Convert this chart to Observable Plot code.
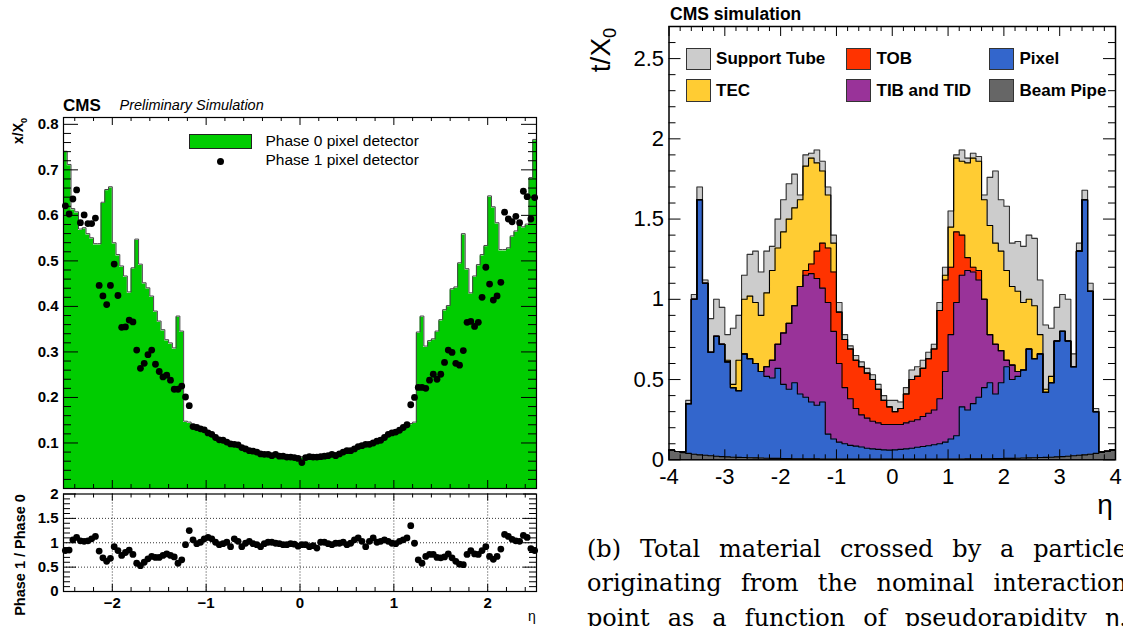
<!DOCTYPE html>
<html><head><meta charset="utf-8">
<script src="https://cdn.jsdelivr.net/npm/d3@7"></script>
<script src="https://cdn.jsdelivr.net/npm/@observablehq/plot@0.6"></script>
<style>
html,body{margin:0;padding:0;width:1123px;height:626px;overflow:hidden;background:#fff;}
body{position:relative;font-family:"Liberation Sans",Arial,Helvetica,sans-serif;color:#000;}
.abs{position:absolute;white-space:nowrap;line-height:1;}
.rot{transform:translate(-50%,-50%) rotate(-90deg);}
.ctr{transform:translate(-50%,-50%);}
.box{position:absolute;box-sizing:border-box;border:1px solid #222;}
.cl{width:540px;text-align:justify;text-align-last:justify;}
</style></head><body>
<div id="leftMain" class="abs" style="left:0;top:90px"></div>
<div id="leftRatio" class="abs" style="left:0;top:488px"></div>
<div id="right" class="abs" style="left:600px;top:0"></div>

<div class="abs" style="left:63px;top:96.5px;font-size:17px;font-weight:bold">CMS</div>
<div class="abs" style="left:119.5px;top:97.5px;font-size:14.5px;font-style:italic">Preliminary Simulation</div>
<div class="abs rot" style="left:20px;top:131px;font-size:14px;font-weight:bold">x/X<sub style="font-size:0.65em">0</sub></div>
<div class="abs rot" style="left:20px;top:555px;font-size:14.5px;font-weight:bold">Phase 1 / Phase 0</div>
<div class="abs ctr" style="left:532px;top:616px;font-size:14px">η</div>
<div class="box" style="left:189px;top:134px;width:63px;height:15px;background:#00cc00"></div>
<div class="abs" style="left:265.5px;top:133px;font-size:15.5px">Phase 0 pixel detector</div>
<div class="abs" style="left:217.3px;top:158.2px;width:7px;height:7px;border-radius:50%;background:#000"></div>
<div class="abs" style="left:265.5px;top:152px;font-size:15.5px">Phase 1 pixel detector</div>

<div class="abs" style="left:670px;top:5.5px;font-size:17.5px;font-weight:bold">CMS simulation</div>
<div class="abs rot" style="left:603px;top:50px;font-size:28px">t/X<sub style="font-size:0.65em">0</sub></div>
<div class="abs ctr" style="left:1105px;top:505px;font-size:28px">η</div>
<div id="legendR"></div>

<div style="position:absolute;left:587px;top:531.5px;font-family:'DejaVu Serif',serif;font-size:24px;line-height:34.5px;">
<div class="cl">(b) Total material crossed by a particle</div>
<div class="cl">originating from the nominal interaction</div>
<div class="cl">point as a function of pseudorapidity η.</div>
</div>

<script>
// ---------------- LEFT CHART DATA (bins of 0.04 from -2.52 to 2.52) ----------------
const leftBinStart = -2.52;
const leftBinWidth = 0.04;
const phase0 = [
 0.738,0.709,0.612,0.605,0.567,0.570,0.557,0.548,0.535,0.535,0.626,0.654,0.660,0.537,0.511,0.486,0.464,0.429,0.482,0.545,0.490,0.449,0.438,0.420,0.387,0.365,0.346,0.324,0.317,0.306,0.376,0.343,
 0.145,0.143,0.138,0.133,0.129,0.125,0.121,0.117,0.113,0.109,0.106,0.102,0.099,0.096,0.093,0.090,0.087,0.085,0.083,0.080,0.078,0.076,0.074,0.073,0.072,0.070,0.069,0.068,0.068,0.067,0.067,0.067,
 0.067,0.068,0.068,0.069,0.070,0.071,0.073,0.074,0.076,0.078,0.080,0.082,0.085,0.087,0.090,0.093,0.096,0.099,0.102,0.106,0.109,0.113,0.117,0.121,0.125,0.129,0.133,0.137,0.140,0.143,
 0.341,0.376,0.310,0.322,0.326,0.343,0.368,0.390,0.399,0.436,0.440,0.493,0.557,0.480,0.427,0.464,0.489,0.511,0.531,0.640,0.616,0.581,0.522,0.522,0.526,0.552,0.563,0.578,0.572,0.578,0.680,0.764
];
const phase1 = [
 0.621,0.603,0.636,0.656,0.584,0.601,0.582,0.582,0.594,0.446,0.423,0.404,0.446,0.493,0.424,0.354,0.355,0.370,0.366,0.304,0.264,0.275,0.294,0.304,0.273,0.257,0.245,0.249,0.238,0.218,0.218,0.225,0.201,0.182,
 0.136,0.134,0.131,0.129,0.122,0.119,0.112,0.107,0.106,0.102,0.098,0.097,0.096,0.090,0.087,0.083,0.082,0.080,0.076,0.075,0.075,0.072,0.075,0.071,0.071,0.069,0.069,0.068,0.066,
 0.057,0.068,0.070,0.069,0.069,0.070,0.071,0.072,0.075,0.072,0.076,0.080,0.083,0.083,0.087,0.092,0.094,0.097,0.097,0.100,0.104,0.106,0.112,0.119,0.122,0.124,0.128,0.134,0.140,
 0.184,0.200,0.222,0.222,0.220,0.238,0.251,0.240,0.251,0.277,0.304,0.299,0.275,0.271,0.303,0.365,0.367,0.356,0.365,0.420,0.486,0.449,0.414,0.423,0.453,0.607,0.592,0.586,0.598,0.584,0.653,0.641,0.592,0.639
];
const ratio = [
 0.84,0.85,1.06,1.11,1.04,1.03,1.04,1.08,1.13,0.83,0.69,0.62,0.68,0.92,0.84,0.74,0.80,0.85,0.76,0.58,0.53,0.60,0.67,0.72,0.70,0.70,0.74,0.77,0.74,0.71,0.58,0.65,
 0.96,1.25,1.06,0.98,
 1.01,1.08,1.11,1.08,1.01,0.96,0.98,1.01,0.92,1.08,1.03,0.92,0.99,1.03,0.98,0.96,0.92,0.98,1.01,1.01,0.99,0.98,0.96,0.96,0.98,0.97,0.93,
 0.96,0.96,0.92,0.94,0.89,1.01,1.01,0.98,0.96,0.99,0.99,1.01,0.96,0.99,1.06,1.10,1.03,0.92,1.03,1.10,1.01,1.03,1.06,1.03,0.99,0.98,1.03,1.06,1.10,
 1.35,0.99,0.65,0.58,0.72,0.76,0.76,0.70,0.69,0.71,0.77,0.69,0.62,0.56,0.55,0.76,0.84,0.77,0.76,0.84,0.92,0.72,0.66,0.72,0.87,1.17,1.13,1.07,1.04,1.03,1.15,1.11,0.88,0.84
];
const leftYTicks = [0.1,0.2,0.3,0.4,0.5,0.6,0.7,0.8];
const ratioYTicks = [0,0.5,1,1.5,2];
const leftXTicks = [-2,-1,0,1,2];

// ---------------- RIGHT CHART DATA (bins of 0.1 from -4 to 4), cumulative layer tops ----------------
const rightBinStart = -4;
const rightBinWidth = 0.1;
const beamPipeTop = [
 0.060,0.052,0.045,0.040,0.035,0.031,0.028,0.025,0.022,0.020,0.018,0.016,0.015,0.014,0.013,0.012,0.011,0.010,0.009,0.009,0.008,0.008,0.007,0.007,0.006,0.006,0.006,0.005,0.005,0.005,0.005,0.004,0.004,0.004,0.004,0.004,0.004,0.004,0.004,0.004,
 0.004,0.004,0.004,0.004,0.004,0.004,0.004,0.004,0.004,0.005,0.005,0.005,0.005,0.006,0.006,0.006,0.007,0.007,0.008,0.008,0.009,0.009,0.010,0.011,0.012,0.013,0.014,0.015,0.016,0.018,0.020,0.022,0.025,0.028,0.031,0.035,0.040,0.046,0.053,0.062
];
const pixelTop = [
 0.060,0.052,0.048,0.35,1.00,1.62,1.10,0.67,0.77,0.72,0.61,0.45,0.43,0.66,0.63,0.60,0.55,0.52,0.51,0.57,0.47,0.44,0.48,0.41,0.39,0.36,0.34,0.36,0.16,0.13,0.11,0.10,0.09,0.085,0.08,0.072,0.068,0.065,0.062,0.06,
 0.062,0.065,0.068,0.072,0.078,0.083,0.088,0.094,0.10,0.11,0.13,0.15,0.33,0.31,0.35,0.39,0.45,0.48,0.41,0.48,0.58,0.50,0.52,0.56,0.69,0.63,0.66,0.42,0.48,0.74,0.80,0.74,0.58,1.30,1.62,1.05,0.30,0.05,0.053,0.062
];
const tibTop = [
 0.060,0.052,0.048,0.35,1.00,1.62,1.10,0.67,0.77,0.72,0.61,0.45,0.43,0.66,0.63,0.60,0.55,0.58,0.62,0.72,0.79,0.85,0.96,1.08,1.15,1.16,1.13,1.07,0.98,0.80,0.60,0.45,0.38,0.32,0.28,0.26,0.24,0.23,0.22,0.22,
 0.22,0.22,0.23,0.24,0.25,0.27,0.29,0.31,0.38,0.55,0.78,0.98,1.15,1.18,1.17,1.12,1.00,0.78,0.72,0.68,0.62,0.59,0.55,0.56,0.69,0.63,0.66,0.42,0.48,0.74,0.80,0.74,0.58,1.30,1.62,1.05,0.30,0.05,0.053,0.062
];
const tobTop = [
 0.060,0.052,0.048,0.35,1.00,1.62,1.10,0.67,0.77,0.72,0.61,0.45,0.43,0.66,0.63,0.60,0.55,0.58,0.62,0.72,0.79,0.85,0.96,1.08,1.18,1.22,1.30,1.35,1.32,1.17,0.92,0.75,0.69,0.62,0.58,0.54,0.50,0.44,0.37,0.33,
 0.30,0.32,0.41,0.50,0.52,0.57,0.63,0.69,0.93,1.12,1.20,1.42,1.40,1.26,1.20,1.18,1.00,0.78,0.72,0.68,0.62,0.59,0.55,0.56,0.69,0.63,0.66,0.42,0.48,0.74,0.80,0.74,0.58,1.30,1.62,1.05,0.30,0.05,0.053,0.062
];
const tecTop = [
 0.060,0.052,0.048,0.35,1.00,1.62,1.10,0.67,0.77,0.72,0.62,0.47,0.62,1.00,1.02,0.98,0.90,1.04,1.18,1.32,1.42,1.50,1.57,1.62,1.83,1.88,1.85,1.80,1.65,1.35,0.92,0.75,0.69,0.62,0.58,0.54,0.50,0.44,0.37,0.33,
 0.30,0.32,0.41,0.50,0.52,0.57,0.63,0.69,0.93,1.15,1.45,1.88,1.86,1.85,1.88,1.86,1.62,1.46,1.35,1.30,1.18,1.08,1.05,0.98,1.00,0.96,0.78,0.44,0.52,0.74,0.80,0.74,0.58,1.30,1.62,1.05,0.30,0.05,0.053,0.062
];
const supportTop = [
 0.060,0.052,0.048,0.37,1.03,1.70,1.12,0.88,1.00,0.95,0.78,0.82,0.90,1.15,1.28,1.30,1.17,1.30,1.33,1.50,1.62,1.72,1.78,1.65,1.90,1.91,1.93,1.86,1.70,1.40,0.98,0.78,0.71,0.65,0.61,0.57,0.53,0.47,0.40,0.37,
 0.37,0.36,0.45,0.56,0.58,0.62,0.67,0.72,0.98,1.20,1.55,1.90,1.93,1.88,1.91,1.89,1.65,1.76,1.80,1.62,1.58,1.35,1.36,1.33,1.40,1.38,1.12,0.84,0.82,0.95,1.03,1.00,0.66,1.35,1.68,1.10,0.32,0.05,0.053,0.062
];
const layerNames = ["Support Tube","TEC","TOB","TIB and TID","Pixel","Beam Pipe"];
const layerColors = ["#cccccc","#ffcc33","#ff3300","#993399","#3366cc","#666666"];
const rightYTicks = [0,0.5,1,1.5,2,2.5];
const rightXTicks = [-4,-3,-2,-1,0,1,2,3,4];

// ---------------- helpers ----------------
const FONT = "'Liberation Sans', Arial, Helvetica, sans-serif";
function stepData(values, start, width) {
  const pts = values.map((v, i) => ({x: start + i * width, y: v}));
  pts.push({x: start + values.length * width, y: values[values.length - 1]});
  return pts;
}
function centers(values, start, width) {
  return values.map((v, i) => ({x: start + (i + 0.5) * width, y: v}));
}
function isMult(v, step) { const q = v / step; return Math.abs(q - Math.round(q)) < 1e-6; }
function frameTicks({xd, yd, w, h, xMaj, xMin, yMaj, yMin, xMajL, xMinL, yMajL, yMinL}) {
  const ux = (xd[1] - xd[0]) / w, uy = (yd[1] - yd[0]) / h;
  const yT = (vals, L) => [
    Plot.ruleY(vals, {y: d => d, x1: () => xd[0], x2: () => xd[0] + L * ux, stroke: "black"}),
    Plot.ruleY(vals, {y: d => d, x1: () => xd[1] - L * ux, x2: () => xd[1], stroke: "black"})];
  const xT = (vals, L) => [
    Plot.ruleX(vals, {x: d => d, y1: () => yd[0], y2: () => yd[0] + L * uy, stroke: "black"}),
    Plot.ruleX(vals, {x: d => d, y1: () => yd[1] - L * uy, y2: () => yd[1], stroke: "black"})];
  return [...yT(yMaj, yMajL), ...yT(yMin, yMinL), ...xT(xMaj, xMajL), ...xT(xMin, xMinL)];
}
const minus = d => d < 0 ? "\u2212" + (-d) : String(d);

// ---------------- LEFT MAIN ----------------
const LX = [-2.52, 2.52];
{
  const W = 545, H = 400, ml = 63, mr = 9, mt = 27, mb = 2;
  const yd = [0, 0.815];
  const p0 = stepData(phase0, leftBinStart, leftBinWidth);
  const p1 = centers(phase1, leftBinStart, leftBinWidth);
  const yMin = d3.range(0, 0.815, 0.02).filter(v => !isMult(v, 0.1));
  const xMin = d3.range(-2.4, 2.5, 0.2).filter(v => !isMult(v, 1));
  const plot = Plot.plot({
    width: W, height: H, marginLeft: ml, marginRight: mr, marginTop: mt, marginBottom: mb,
    x: {domain: LX, axis: null}, y: {domain: yd, axis: null},
    style: {fontFamily: FONT, background: "transparent", overflow: "visible"},
    marks: [
      Plot.areaY(p0, {x: "x", y: "y", curve: "step-after", fill: "#00cc00"}),
      Plot.lineY(p0, {x: "x", y: "y", curve: "step-after", stroke: "#444", strokeWidth: 1, dy: -1.3}),
      Plot.dot(p1, {x: "x", y: "y", r: 3.4, fill: "black", stroke: "none"}),
      ...frameTicks({xd: LX, yd, w: W - ml - mr, h: H - mt - mb, xMaj: leftXTicks, xMin, yMaj: leftYTicks, yMin,
                     xMajL: 8, xMinL: 4, yMajL: 15, yMinL: 8}),
      Plot.frame({stroke: "black", strokeWidth: 1.2}),
      Plot.text(leftYTicks, {y: d => d, frameAnchor: "left", dx: -5, textAnchor: "end", text: d => d.toFixed(1),
                             fontSize: 15, fontWeight: "bold"})
    ]
  });
  document.getElementById("leftMain").append(plot);
}
// ---------------- LEFT RATIO ----------------
{
  const W = 545, H = 138, ml = 63, mr = 9, mt = 5.5, mb = 35;
  const yd = [0, 2];
  const pts = centers(ratio, leftBinStart, leftBinWidth);
  const yMin = d3.range(0, 2.01, 0.1).filter(v => !isMult(v, 0.5));
  const xMin = d3.range(-2.4, 2.5, 0.2).filter(v => !isMult(v, 1));
  const plot = Plot.plot({
    width: W, height: H, marginLeft: ml, marginRight: mr, marginTop: mt, marginBottom: mb,
    x: {domain: LX, axis: null}, y: {domain: yd, axis: null},
    style: {fontFamily: FONT, background: "transparent", overflow: "visible"},
    marks: [
      Plot.ruleX(leftXTicks, {x: d => d, stroke: "black", strokeWidth: 0.8, strokeDasharray: "1,2"}),
      Plot.ruleY([0.5, 1, 1.5], {y: d => d, stroke: "black", strokeWidth: 0.8, strokeDasharray: "1,2"}),
      Plot.dot(pts, {x: "x", y: "y", r: 3.4, fill: "black", stroke: "none"}),
      ...frameTicks({xd: LX, yd, w: W - ml - mr, h: H - mt - mb, xMaj: leftXTicks, xMin, yMaj: ratioYTicks, yMin,
                     xMajL: 7, xMinL: 4, yMajL: 13, yMinL: 7}),
      Plot.frame({stroke: "black", strokeWidth: 1.2}),
      Plot.text(ratioYTicks, {y: d => d, frameAnchor: "left", dx: -5, textAnchor: "end", text: d => String(d),
                              fontSize: 15, fontWeight: "bold"}),
      Plot.text(leftXTicks, {x: d => d, frameAnchor: "bottom", dy: 6, lineAnchor: "top", text: minus,
                             fontSize: 15, fontWeight: "bold"})
    ]
  });
  document.getElementById("leftRatio").append(plot);
}
// ---------------- RIGHT CHART ----------------
{
  const W = 523, H = 520, ml = 68.5, mr = 8, mt = 26, mb = 60.7;
  const xd = [-4, 4], yd = [0, 2.7];
  const tops = [supportTop, tecTop, tobTop, tibTop, pixelTop, beamPipeTop];
  const series = tops.map(t => stepData(t, rightBinStart, rightBinWidth));
  const yMin = d3.range(0, 2.7, 0.1).filter(v => !isMult(v, 0.5));
  const xMin = d3.range(-3.8, 4, 0.2).filter(v => !isMult(v, 1));
  const plot = Plot.plot({
    width: W, height: H, marginLeft: ml, marginRight: mr, marginTop: mt, marginBottom: mb,
    x: {domain: xd, axis: null}, y: {domain: yd, axis: null},
    style: {fontFamily: FONT, background: "transparent", overflow: "visible"},
    marks: [
      ...series.map((s, i) => Plot.areaY(s, {x: "x", y: "y", curve: "step-after", fill: layerColors[i]})),
      ...series.map((s, i) => Plot.lineY(s, {x: "x", y: "y", curve: "step-after", stroke: i === 0 ? "#333" : "#000", strokeWidth: 1.1})),
      ...frameTicks({xd, yd, w: W - ml - mr, h: H - mt - mb, xMaj: rightXTicks, xMin, yMaj: rightYTicks, yMin,
                     xMajL: 10, xMinL: 5, yMajL: 12, yMinL: 7}),
      Plot.frame({stroke: "black", strokeWidth: 1.5}),
      Plot.text(rightYTicks, {y: d => d, frameAnchor: "left", dx: -5, textAnchor: "end", text: d => String(d), fontSize: 22}),
      Plot.text(rightXTicks, {x: d => d, frameAnchor: "bottom", dy: 9, lineAnchor: "top", text: d => String(d), fontSize: 22})
    ]
  });
  document.getElementById("right").append(plot);
}
// right legend (HTML)
{
  const cols = [685.6, 846, 989];
  const rows = [47.7, 79.3];
  const order = [[0, 0, 0], [2, 0, 1], [4, 0, 2], [1, 1, 0], [3, 1, 1], [5, 1, 2]]; // [layer, row, col]
  const host = document.getElementById("legendR");
  for (const [li, r, c] of order) {
    const b = document.createElement("div");
    b.className = "box";
    b.style.cssText = `left:${cols[c]}px;top:${rows[r]}px;width:25px;height:22.5px;background:${layerColors[li]};border-color:#333`;
    host.append(b);
    const t = document.createElement("div");
    t.className = "abs";
    t.style.cssText = `left:${cols[c] + 30.5}px;top:${rows[r] + 11 - 8.5}px;font-size:17px;font-weight:bold`;
    t.textContent = layerNames[li];
    host.append(t);
  }
}
</script>
</body></html>
